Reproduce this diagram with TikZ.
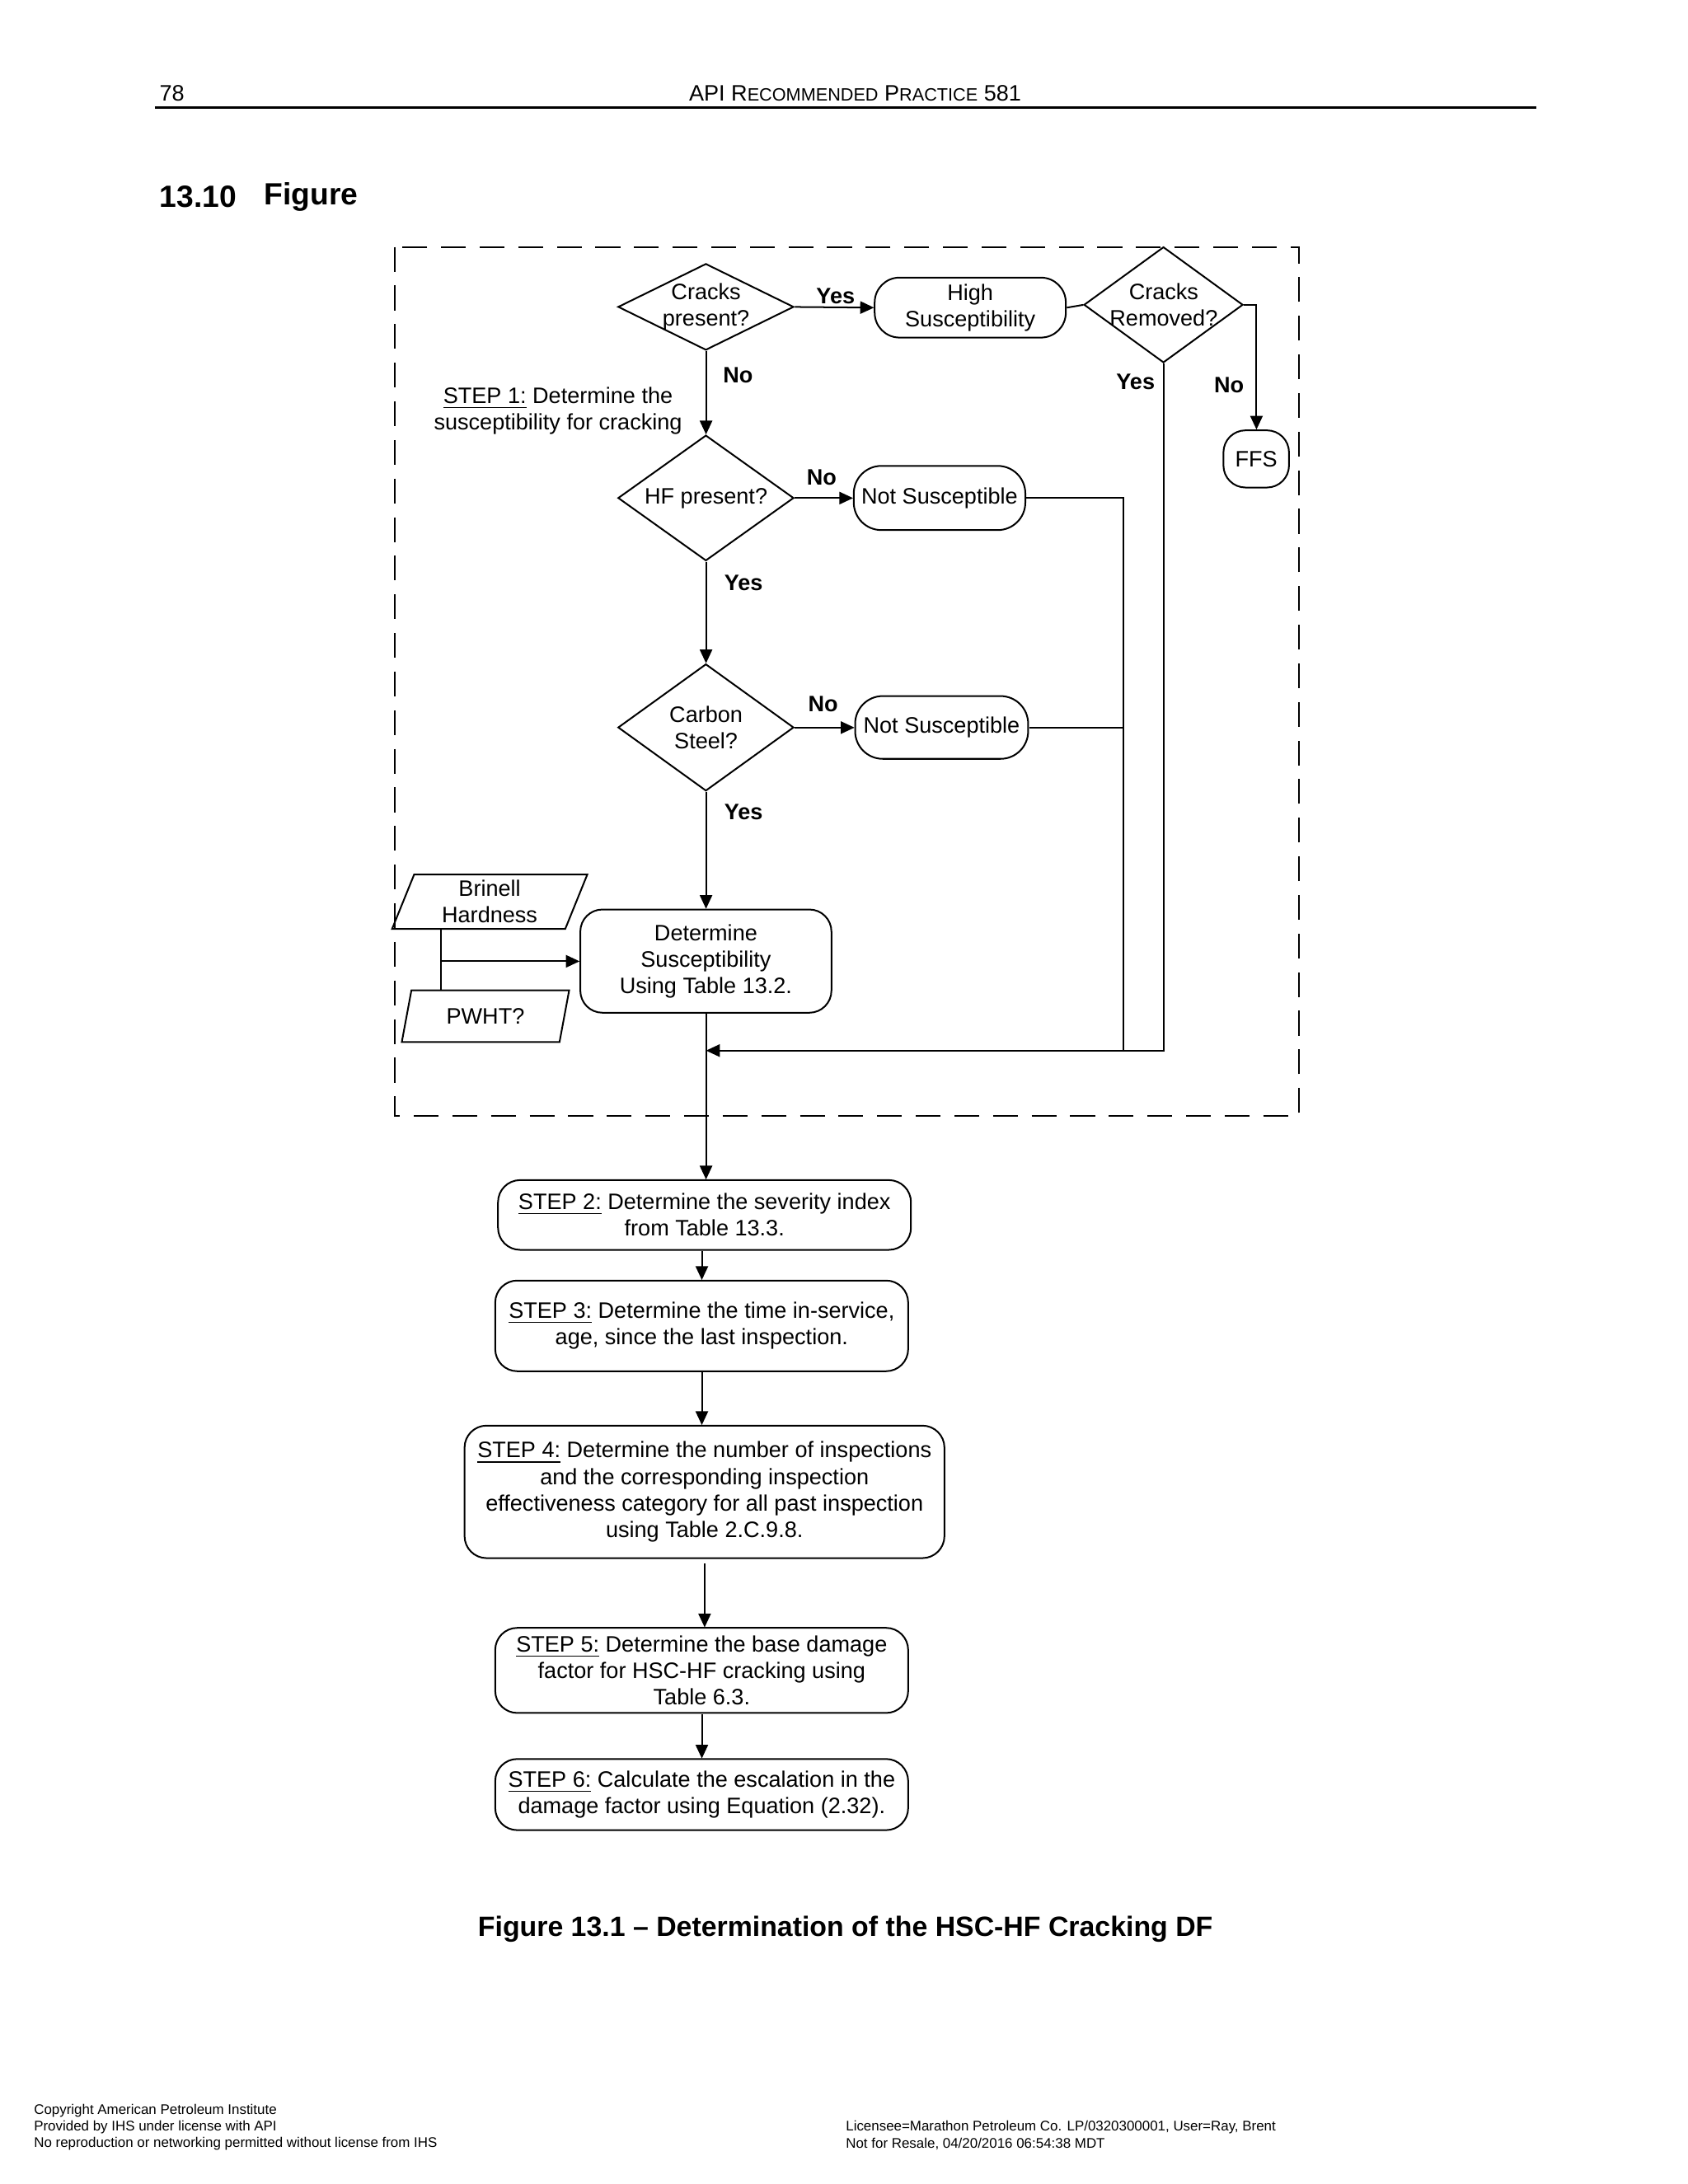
\documentclass[tikz,border=0pt]{standalone}
\usepackage{fontspec}
\setmainfont{Liberation Sans}
\usetikzlibrary{shapes.geometric,arrows.meta}
\begin{document}
\begin{tikzpicture}[x=0.5pt,y=-0.5pt,scale=1.0116,
  every node/.style={font=\fontsize{8}{9.5}\selectfont, align=center, inner sep=0pt, transform shape},
  ln/.style={line width=0.6pt},
  arr/.style={line width=0.6pt,-{Triangle[length=5pt,width=4.5pt]}},
  dec/.style={diamond, draw, line width=0.6pt, inner sep=0pt},
  term/.style={rectangle, draw, line width=0.6pt, rounded corners=9pt},
  proc/.style={rectangle, draw, line width=0.6pt, rounded corners=8pt},
  para/.style={trapezium, draw, line width=0.6pt, trapezium left angle=72, trapezium right angle=108, trapezium stretches=true, inner sep=0pt},
  lab/.style={font=\fontsize{8}{9.5}\selectfont\bfseries},
  foot/.style={font=\fontsize{5}{6}\selectfont, anchor=west}]
\useasboundingbox (0,0) rectangle (1210,1565.7);
\fill[white] (0,0) rectangle (1210,1565.7);

% header
\node[anchor=west, font=\fontsize{8}{9.5}\selectfont] (pg) at (114,67) {78};
\node[font=\fontsize{8}{9.5}\selectfont] (hd) at (613,67) {API R{\fontsize{6.4}{8}\selectfont ECOMMENDED} P{\fontsize{6.4}{8}\selectfont RACTICE} 581};
\draw[line width=0.8pt] (111,77) -- (1101,77);
\node[anchor=west, font=\fontsize{11}{13}\selectfont\bfseries] (sn) at (114,141) {13.10};
\node[anchor=west, font=\fontsize{11}{13}\selectfont\bfseries] (st) at (189,141) {Figure};

% dashed frame
\draw[line width=0.6pt, dash pattern=on 9pt off 5pt] (283,177) rectangle (931,800);

% shapes
\node[dec, minimum width=63pt, minimum height=31pt] (cp) at (506,220) {};
\node (cpt) at (cp) {Cracks\\present?};
\node[term, minimum width=68.5pt, minimum height=21.5pt] (hs) at (695.5,220.5) {High\\Susceptibility};
\node[dec, minimum width=57pt, minimum height=41.5pt] (cr) at (834,218.5) {};
\node (crt) at (cr) {Cracks\\Removed?};
\node[term, rounded corners=8pt, minimum width=23.5pt, minimum height=20.5pt] (ffs) at (900.5,329) {FFS};
\node[dec, minimum width=63pt, minimum height=45pt] (hf) at (506,357) {};
\node (hft) at (hf) {HF present?};
\node[term, rounded corners=10pt, minimum width=61.5pt, minimum height=23pt] (ns1) at (673.5,357) {Not Susceptible};
\node[dec, minimum width=63pt, minimum height=45.5pt] (cs) at (506,521.5) {};
\node (cst) at (cs) {Carbon\\Steel?};
\node[term, rounded corners=10pt, minimum width=62pt, minimum height=22.5pt] (ns2) at (675,521.5) {Not Susceptible};
\node[proc, minimum width=90pt, minimum height=37pt] (det) at (506,689) {Determine\\Susceptibility\\Using Table 13.2.};
\node[para, minimum width=70pt, minimum height=19.5pt] (bh) at (351,646.5) {Brinell\\Hardness};
\node[para, minimum width=60pt, minimum height=18.5pt] (pw) at (348,728.5) {PWHT?};

\node (s1) at (400,294.5) {\underline{STEP 1:} Determine the\\susceptibility for cracking};

\node[proc, minimum width=148pt, minimum height=25pt] (s2) at (505,871) {\underline{STEP 2:} Determine the severity index\\from Table 13.3.};
\node[proc, minimum width=148pt, minimum height=32.5pt] (s3) at (503,950.5) {\underline{STEP 3:} Determine the time in-service,\\age, since the last inspection.};
\node[proc, minimum width=172pt, minimum height=47.5pt] (s4) at (505,1069.5) {\underline{STEP 4:} Determine the number of inspections\\and the corresponding inspection\\effectiveness category for all past inspection\\using Table 2.C.9.8.};
\node[proc, minimum width=148pt, minimum height=30.5pt] (s5) at (503,1197.5) {\underline{STEP 5:} Determine the base damage\\factor for HSC-HF cracking using\\Table 6.3.};
\node[proc, minimum width=148pt, minimum height=25.5pt] (s6) at (503,1286.5) {\underline{STEP 6:} Calculate the escalation in the\\damage factor using Equation (2.32).};

% labels
\node[lab] (y1) at (599,212) {Yes};
\node[lab] (n1) at (529,269) {No};
\node[lab] (y2) at (814,274) {Yes};
\node[lab] (n2) at (881,276) {No};
\node[lab] (n3) at (589,342) {No};
\node[lab] (y3) at (533,418) {Yes};
\node[lab] (n4) at (590,505) {No};
\node[lab] (y4) at (533,582) {Yes};

% connectors
\coordinate (m) at (506,753);
\coordinate (j) at (805,753);
\coordinate (sp) at (316,689);
\draw[arr] (cp.east) -- (hs.west);
\draw[ln] (hs.east) -- (cr.west);
\draw[arr] (cr.east) -| (ffs.north);
\draw[arr] (cp.south) -- (hf.north);
\draw[arr] (hf.east) -- (ns1.west);
\draw[arr] (hf.south) -- (cs.north);
\draw[arr] (cs.east) -- (ns2.west);
\draw[arr] (cs.south) -- (det.north);
\draw[ln] (ns1.east) -| (j);
\draw[ln] (ns2.east) -- (ns2.east -| j);
\draw[arr] (cr.south) |- (m);
\draw[ln] (sp |- bh.south) -- (sp |- pw.north);
\draw[arr] (sp) -- (det.west);
\draw[arr] (det.south) -- (det.south |- s2.north);
\draw[arr] (s3.north |- s2.south) -- (s3.north);
\draw[arr] (s3.south) -- (s3.south |- s4.north);
\draw[arr] ([yshift=-1.5pt]s4.south) -- (s4.south |- s5.north);
\draw[arr] (s5.south) -- (s6.north);

% caption
\node[font=\fontsize{10}{12}\selectfont\bfseries] (cap) at (606,1383) {Figure 13.1 – Determination of the HSC-HF Cracking DF};

% footer
\node[foot] (f1) at (24,1513) {Copyright American Petroleum Institute};
\node[foot] (f2) at (24,1525) {Provided by IHS under license with API};
\node[foot] (f3) at (24,1537) {No reproduction or networking permitted without license from IHS};
\node[foot] (f4) at (606,1525) {Licensee=Marathon Petroleum Co. LP/0320300001, User=Ray, Brent};
\node[foot] (f5) at (606,1537) {Not for Resale, 04/20/2016 06:54:38 MDT};
\end{tikzpicture}
\end{document}
